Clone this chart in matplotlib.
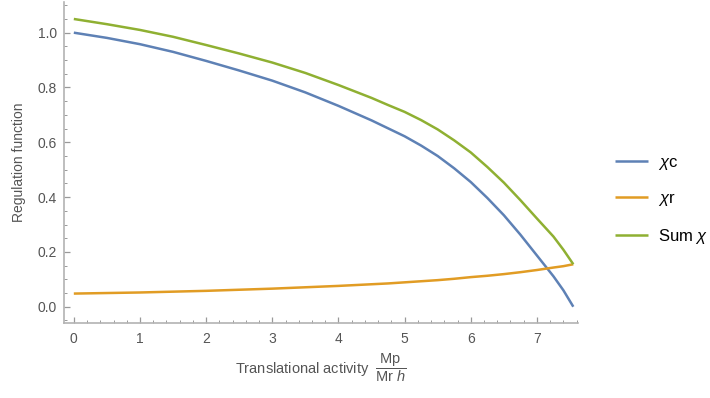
import matplotlib
matplotlib.use("Agg")
import matplotlib.pyplot as plt
from matplotlib.ticker import MultipleLocator, FormatStrFormatter

plt.rcParams["font.family"] = ["Liberation Sans", "DejaVu Sans"]
plt.rcParams["mathtext.fontset"] = "custom"
plt.rcParams["mathtext.rm"] = "Liberation Sans"
plt.rcParams["mathtext.it"] = "Liberation Sans:italic"

# translational activity Mp/(Mr h)
activity = [0, 0.5, 1, 1.5, 2, 2.5, 3, 3.5, 4, 4.5, 4.75, 5, 5.25, 5.5, 5.75,
            6, 6.25, 6.5, 6.75, 7, 7.25, 7.4, 7.55]
chi_c = [1.000, 0.981, 0.958, 0.930, 0.897, 0.862, 0.825, 0.782, 0.733, 0.680,
         0.651, 0.622, 0.588, 0.550, 0.505, 0.455, 0.397, 0.334, 0.263, 0.187,
         0.111, 0.060, 0.000]
chi_r = [0.048, 0.050, 0.052, 0.055, 0.058, 0.062, 0.066, 0.071, 0.076, 0.082,
         0.085, 0.089, 0.093, 0.097, 0.102, 0.108, 0.113, 0.119, 0.126, 0.134,
         0.143, 0.148, 0.155]
chi_sum = [1.050, 1.031, 1.010, 0.985, 0.955, 0.924, 0.891, 0.853, 0.809, 0.762,
           0.736, 0.711, 0.681, 0.647, 0.607, 0.563, 0.510, 0.453, 0.389, 0.322,
           0.256, 0.208, 0.155]

labels = [r"$\chi$c", r"$\chi$r", r"Sum $\chi$"]
colors = ["#5e81b5", "#e19c24", "#8fb032"]

fig = plt.figure(figsize=(7.1, 3.98), dpi=100)
ax = fig.add_axes([0.090, 0.188, 0.724, 0.807])

for ys, lab, col in zip([chi_c, chi_r, chi_sum], labels, colors):
    ax.plot(activity, ys, color=col, lw=1.8, label=lab, solid_capstyle="butt",
            solid_joinstyle="round")

ax.set_xlim(-0.15, 7.62)
ax.set_ylim(-0.06, 1.112)
ax.xaxis.set_major_locator(MultipleLocator(1))
ax.xaxis.set_minor_locator(MultipleLocator(0.2))
ax.yaxis.set_major_locator(MultipleLocator(0.2))
ax.yaxis.set_minor_locator(MultipleLocator(0.05))
ax.yaxis.set_major_formatter(FormatStrFormatter("%.1f"))

grey = "#b3b3b3"
for side in ["top", "right"]:
    ax.spines[side].set_visible(False)
for side in ["left", "bottom"]:
    ax.spines[side].set_color(grey)
    ax.spines[side].set_linewidth(1.2)
ax.tick_params(which="both", direction="in", color="#999999", labelcolor="#555555",
               labelsize=10)
ax.tick_params(which="major", length=4.5, width=0.9)
ax.tick_params(which="minor", length=2.5, width=0.7)
ax.tick_params(axis="x", pad=6)
ax.tick_params(axis="y", pad=5)

ax.set_ylabel("Regulation function", color="#555555", fontsize=10, labelpad=8)
ax.set_xlabel(r"Translational activity  $\dfrac{\mathrm{Mp}}{\mathrm{Mr}\ \mathit{h}}$",
              color="#555555", fontsize=10.5, labelpad=4)

fig.legend(loc="center left", bbox_to_anchor=(0.845, 0.497), frameon=False,
           fontsize=12, handlelength=2.0, handletextpad=0.6, labelspacing=1.15)

fig.savefig("out.png", dpi=100)
